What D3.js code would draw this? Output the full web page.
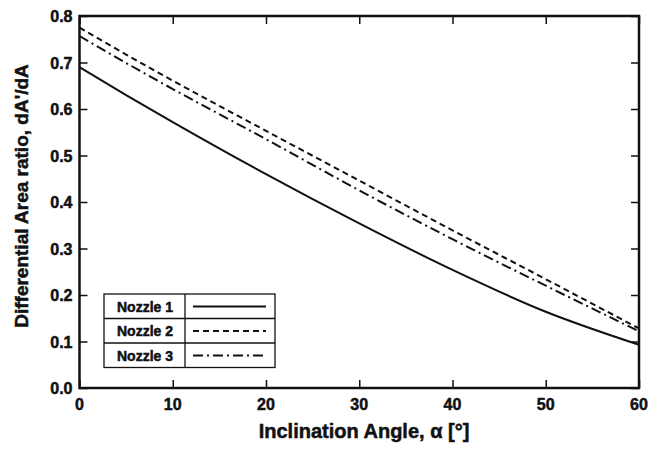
<!DOCTYPE html>
<html>
<head>
<meta charset="utf-8">
<script src="https://cdn.jsdelivr.net/npm/d3@7"></script>
<style>
  body { margin: 0; background: #fff; }
  text { font-family: "Liberation Sans", Arial, sans-serif; font-weight: bold; fill: #111; stroke: #111; stroke-width: 0.5px; }
</style>
</head>
<body>
<svg class="chart"></svg>
<script>
// angle [deg]
var angles = [0, 5, 10, 20, 30, 40, 50, 60];
var nozzle1 = [0.690, 0.630, 0.572, 0.460, 0.354, 0.254, 0.164, 0.093];
var nozzle2 = [0.775, 0.717, 0.661, 0.553, 0.446, 0.339, 0.234, 0.128];
var nozzle3 = [0.757, 0.699, 0.643, 0.535, 0.425, 0.320, 0.220, 0.122];
var seriesNames = ["Nozzle 1", "Nozzle 2", "Nozzle 3"];
var xTicks = [0, 10, 20, 30, 40, 50, 60];
var yTicks = [0, 0.1, 0.2, 0.3, 0.4, 0.5, 0.6, 0.7, 0.8];

var W = 649, H = 449;
// plot box edges (note: "top" is reserved on window, so use px*)
var pxL = 79.5, pxR = 639, pxT = 16, pxB = 388;

var svg = d3.select(".chart")
    .attr("width", W)
    .attr("height", H);

var x = d3.scaleLinear().domain([0, 60]).range([pxL, pxR]);
var y = d3.scaleLinear().domain([0, 0.8]).range([pxB, pxT]);

// ticks pointing inward on all four sides
svg.append("g")
    .attr("transform", "translate(0," + pxB + ")")
    .call(d3.axisTop(x).tickValues(xTicks).tickSize(8).tickFormat(""))
    .call(function(g) { g.select(".domain").remove(); });
svg.append("g")
    .attr("transform", "translate(0," + pxT + ")")
    .call(d3.axisBottom(x).tickValues(xTicks).tickSize(8).tickFormat(""))
    .call(function(g) { g.select(".domain").remove(); });
svg.append("g")
    .attr("transform", "translate(" + pxL + ",0)")
    .call(d3.axisRight(y).tickValues(yTicks).tickSize(8).tickFormat(""))
    .call(function(g) { g.select(".domain").remove(); });
svg.append("g")
    .attr("transform", "translate(" + pxR + ",0)")
    .call(d3.axisLeft(y).tickValues(yTicks).tickSize(8).tickFormat(""))
    .call(function(g) { g.select(".domain").remove(); });
svg.selectAll(".tick line").attr("stroke", "#111").attr("stroke-width", 1.5);

// tick labels
svg.selectAll(".xlab")
    .data(xTicks)
    .enter().append("text")
    .attr("x", function(d) { return x(d); })
    .attr("y", 410)
    .attr("text-anchor", "middle")
    .style("font-size", "16px")
    .text(function(d) { return d; });

svg.selectAll(".ylab")
    .data(yTicks)
    .enter().append("text")
    .attr("x", pxL - 7)
    .attr("y", function(d) { return y(d) + 6; })
    .attr("text-anchor", "end")
    .style("font-size", "16px")
    .text(function(d) { return d.toFixed(1); });

// curves
var line = d3.line()
    .x(function(d) { return x(d[0]); })
    .y(function(d) { return y(d[1]); })
    .curve(d3.curveMonotoneX);

var dashes = [null, "6,4", "10,4,2,4"];
[nozzle1, nozzle2, nozzle3].forEach(function(vals, i) {
  svg.append("path")
      .attr("d", line(d3.zip(angles, vals)))
      .attr("fill", "none")
      .attr("stroke", "#111")
      .attr("stroke-width", 2)
      .attr("stroke-dasharray", dashes[i]);
});

// frame
svg.append("rect")
    .attr("x", pxL)
    .attr("y", pxT)
    .attr("width", pxR - pxL)
    .attr("height", pxB - pxT)
    .attr("fill", "none")
    .attr("stroke", "#111")
    .attr("stroke-width", 2.5);

// legend table
var lg = svg.append("g").attr("transform", "translate(104,294)");
var rowH = 24.5;
lg.append("rect")
    .attr("width", 171)
    .attr("height", rowH * 3)
    .attr("fill", "#fff")
    .attr("stroke", "#111")
    .attr("stroke-width", 1.3);
lg.append("line")
    .attr("x1", 81).attr("x2", 81)
    .attr("y1", 0).attr("y2", rowH * 3)
    .attr("stroke", "#111").attr("stroke-width", 1.3);
seriesNames.forEach(function(name, i) {
  if (i > 0) {
    lg.append("line")
        .attr("x1", 0).attr("x2", 171)
        .attr("y1", i * rowH).attr("y2", i * rowH)
        .attr("stroke", "#111").attr("stroke-width", 1.3);
  }
  lg.append("text")
      .attr("x", 41)
      .attr("y", i * rowH + 17.5)
      .attr("text-anchor", "middle")
      .style("font-size", "14px")
      .text(name);
  lg.append("line")
      .attr("x1", 89).attr("x2", 162)
      .attr("y1", i * rowH + 12.5).attr("y2", i * rowH + 12.5)
      .attr("stroke", "#111")
      .attr("stroke-width", 2)
      .attr("stroke-dasharray", dashes[i]);
});

// axis titles
svg.append("text")
    .attr("x", 364)
    .attr("y", 438)
    .attr("text-anchor", "middle")
    .style("font-size", "20px")
    .text("Inclination Angle, \u03b1 [\u00b0]");

svg.append("text")
    .attr("transform", "translate(28,196) rotate(-90)")
    .attr("text-anchor", "middle")
    .style("font-size", "19px")
    .text("Differential Area ratio, dA'/dA");
</script>
</body>
</html>
